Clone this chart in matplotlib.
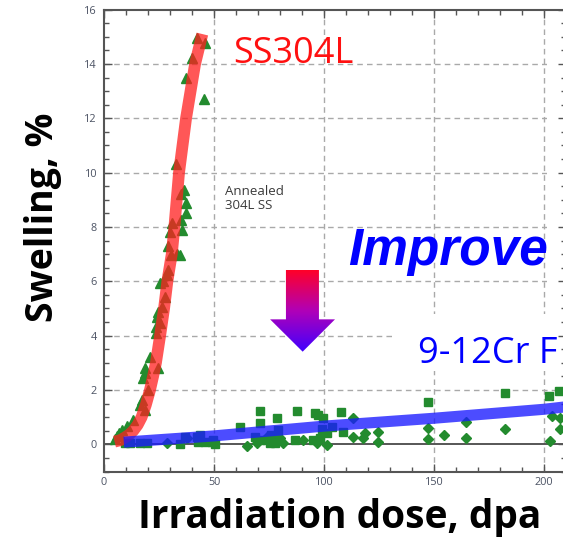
import matplotlib
matplotlib.use("Agg")
import matplotlib.pyplot as plt
import numpy as np
from matplotlib.colors import LinearSegmentedColormap
from matplotlib.patches import Polygon, Rectangle
from matplotlib.ticker import MultipleLocator

# annealed 304L stainless steel swelling data (triangles)
ss_dose = [5.0, 5.8, 7.0, 8.0, 10.3, 13.3, 16.4, 17.1, 18.6, 20.0, 17.9, 18.6,
           18.6, 20.9, 24.6, 23.5, 23.5, 25.5, 23.9, 24.7, 26.2, 27.7, 25.5,
           26.9, 28.5, 29.2, 30.5, 33.0, 34.5, 29.2, 30.0, 31.1, 35.2, 35.5,
           37.3, 37.3, 34.9, 36.4, 32.6, 45.5, 37.3, 40.1, 42.1, 45.8]
ss_swell = [0.18, 0.30, 0.42, 0.52, 0.68, 0.90, 1.45, 1.63, 1.26, 2.00, 2.45,
            2.62, 2.80, 3.22, 2.80, 4.10, 4.33, 4.45, 4.70, 4.88, 5.06, 5.43,
            5.93, 6.00, 6.23, 6.40, 6.95, 7.00, 6.97, 7.30, 7.80, 8.16, 8.26,
            7.90, 8.50, 8.87, 9.20, 9.36, 10.30, 12.71, 13.47, 14.23, 14.96,
            14.76]

# 9-12Cr ferritic/martensitic data (squares)
fm_sq_dose = [9.5, 11.8, 16.4, 19.4, 34.5, 36.8, 42.1, 42.8, 43.6, 45.9, 48.9,
              49.7, 50.5, 61.8, 68.6, 70.9, 70.9, 70.9, 74.0, 75.5, 76.0, 77.7,
              78.5, 78.5, 79.2, 86.8, 87.6, 95.1, 95.9, 97.4, 98.2, 99.0, 99.7,
              101.2, 103.5, 107.7, 108.8, 147.4, 182.3, 202.4, 207.0]
fm_sq_swell = [0.04, 0.04, 0.04, 0.04, 0.02, 0.28, 0.28, 0.10, 0.34, 0.10,
               0.10, 0.16, 0.01, 0.63, 0.28, 1.24, 0.77, 0.16, 0.16, 0.04,
               0.34, 0.04, 0.96, 0.28, 0.53, 0.16, 1.24, 0.16, 1.16, 1.08,
               0.22, 0.56, 0.96, 0.40, 0.63, 1.20, 0.46, 1.55, 1.90, 1.78, 1.97]

# 9-12Cr ferritic/martensitic data (diamonds)
fm_di_dose = [28.5, 37.6, 64.9, 69.4, 74.0, 80.0, 81.5, 90.6, 96.7, 101.2,
              113.3, 113.3, 117.9, 118.6, 124.7, 124.7, 147.4, 147.4, 154.5,
              164.5, 164.5, 182.3, 202.7, 203.5, 207.3, 207.3]
fm_di_swell = [0.04, 0.22, -0.07, 0.04, 0.28, 0.22, 0.04, 0.16, 0.04, -0.03,
               0.96, 0.28, 0.22, 0.40, 0.46, 0.10, 0.59, 0.18, 0.34, 0.83,
               0.22, 0.55, 0.13, 1.04, 0.96, 0.55]

# trend curves
ss_fit_dose = [4.8, 7.3, 9.5, 11.5, 13.3, 15.3, 17.1, 19.0, 20.9, 22.3, 23.6,
               25.5, 27.3, 28.8, 30.8, 32.0, 34.1, 37.3, 41.4, 44.7]
ss_fit_swell = [0.10, 0.15, 0.25, 0.36, 0.50, 0.72, 1.00, 1.45, 2.00, 2.50,
                3.00, 4.00, 5.00, 6.00, 7.00, 8.00, 10.0, 12.0, 14.0, 15.1]
fm_fit_dose = [9.0, 50.0, 100.0, 150.0, 200.0, 212.0]
fm_fit_swell = [0.08, 0.31, 0.67, 0.96, 1.29, 1.40]

x_ticks = [0, 50, 100, 150, 200]
y_ticks = [0, 2, 4, 6, 8, 10, 12, 14, 16]

W, H = 563, 541
fig = plt.figure(figsize=(W / 100, H / 100), dpi=100)
fig.patch.set_facecolor("white")
ax = fig.add_axes([104 / W, 1 - 471.5 / H, 462 / W, 461.9 / H])
ax.set_xlim(0, 210)
ax.set_ylim(-1, 16)

# dashed grid drawn by hand so white boxes can mask parts of it
for gx in x_ticks[1:]:
    ax.axvline(gx, color="#a9a9a9", lw=1.0, ls=(0, (4, 3)), zorder=0.3)
for gy in y_ticks[1:-1]:
    ax.axhline(gy, color="#a9a9a9", lw=1.0, ls=(0, (4, 3)), zorder=0.3)
ax.add_patch(Rectangle((132.3, 2.7), 80, 2.1, facecolor="white",
                       edgecolor="none", zorder=0.6))
ax.add_patch(Rectangle((201.2, 4.7), 12, 12, facecolor="white",
                       edgecolor="none", zorder=0.6))
ax.axhline(0, color="#3a3a3a", lw=1.2, zorder=0.8)

green = "#238b2e"
ax.plot(ss_dose, ss_swell, ls="none", marker="^", ms=7, color=green, zorder=2)
ax.plot(fm_sq_dose, fm_sq_swell, ls="none", marker="s", ms=6.3, color=green,
        zorder=2)
ax.plot(fm_di_dose, fm_di_swell, ls="none", marker="D", ms=5.2, color=green,
        zorder=2)

ax.plot(ss_fit_dose, ss_fit_swell, color="#ff1f1f", lw=8.5, alpha=0.75,
        solid_capstyle="butt", solid_joinstyle="round", zorder=3)
ax.plot(fm_fit_dose, fm_fit_swell, color="#1a1aff", lw=8, alpha=0.78,
        solid_capstyle="butt", zorder=3)

ax.text(55, 9.55, "Annealed\n304L SS", fontsize=9.5, family="Open Sans",
        color="#3a3a3a", va="top", ha="left", linespacing=1.15, zorder=4)

# gradient arrow pointing down
arrow = Polygon([(82.7, 6.42), (97.7, 6.42), (97.7, 4.6), (105.0, 4.6),
                 (90.3, 3.41), (75.5, 4.6), (82.7, 4.6)], closed=True,
                facecolor="none", edgecolor="none")
ax.add_patch(arrow)
cmap = LinearSegmentedColormap.from_list("arr", ["#ff0028", "#b000b8", "#4000ff"])
grad = np.linspace(0, 1, 256).reshape(-1, 1)
img = ax.imshow(grad, cmap=cmap, extent=(75.5, 105.0, 3.41, 6.42),
                origin="upper", aspect="auto", zorder=4)
img.set_clip_path(arrow)
ax.set_xlim(0, 210)
ax.set_ylim(-1, 16)

# ticks and spines
ax.set_xticks(x_ticks)
ax.set_yticks(y_ticks)
ax.xaxis.set_minor_locator(MultipleLocator(10))
ax.yaxis.set_minor_locator(MultipleLocator(0.5))
ax.tick_params(which="both", direction="in", top=True, right=True,
               color="#555555", width=1.0)
ax.tick_params(which="major", length=6, labelsize=7.8, labelcolor="#4b5263")
ax.tick_params(which="minor", length=3.5)
ax.tick_params(axis="x", pad=4)
ax.tick_params(axis="y", pad=5)
for lbl in ax.get_xticklabels() + ax.get_yticklabels():
    lbl.set_family("Open Sans")
for sp in ax.spines.values():
    sp.set_color("#555555")
    sp.set_linewidth(1.5)

fig.text(293 / W, 1 - 63 / H, "SS304L", color="#ff1010", fontsize=26,
         family="Open Sans", ha="center", va="baseline")
fig.text(348 / W, 1 - 265 / H, "Improve", color="#0000ff", fontsize=37,
         family="Liberation Sans", weight="bold", style="italic",
         ha="left", va="baseline")
fig.text(418 / W, 1 - 363 / H, "9-12Cr F", color="#0000ff", fontsize=26,
         family="Open Sans", ha="left", va="baseline")
fig.text(43.5 / W, 1 - 217.5 / H, "Swelling, %", rotation=90, fontsize=27,
         family="Open Sans", weight="bold", ha="center", va="center")
fig.text(340 / W, 1 - 528 / H, "Irradiation dose, dpa", fontsize=28,
         family="Open Sans", weight="bold", ha="center", va="baseline")

fig.savefig("out.png", dpi=100, facecolor="white")
